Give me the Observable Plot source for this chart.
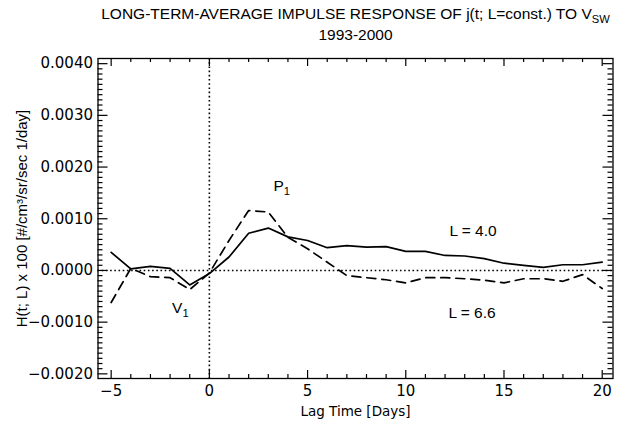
<!DOCTYPE html>
<html>
<head>
<meta charset="utf-8">
<script src="https://cdn.jsdelivr.net/npm/d3@7"></script>
<script src="https://cdn.jsdelivr.net/npm/@observablehq/plot@0.6"></script>
<style>
  html, body { margin: 0; padding: 0; background: white; }
</style>
</head>
<body>
<div id="chart"></div>
<script>
// ---- data ----
const lag = [-5, -4, -3, -2, -1, 0, 1, 2, 3, 4, 5, 6, 7, 8, 9, 10, 11, 12, 13, 14, 15, 16, 17, 18, 19, 20];
const hL40 = [0.00035, 0.00003, 0.00008, 0.00004, -0.00028, -0.00006, 0.00026, 0.00072, 0.00082, 0.00065,
              0.00058, 0.00044, 0.00048, 0.00045, 0.00046, 0.00037, 0.00037, 0.00029, 0.00028, 0.00023,
              0.00014, 0.00010, 0.00006, 0.00011, 0.00011, 0.00016];
const hL66 = [-0.00062, 0.00004, -0.00012, -0.00014, -0.00037, -0.00005, 0.00058, 0.00116, 0.00113, 0.00064,
              0.00042, 0.00016, -0.00010, -0.00014, -0.00018, -0.00024, -0.00014, -0.00014, -0.00016, -0.00019,
              -0.00024, -0.00016, -0.00016, -0.00021, -0.00008, -0.00035];

const xTicks = [-5, 0, 5, 10, 15, 20];
const yTicks = [-0.0020, -0.0010, 0.0000, 0.0010, 0.0020, 0.0030, 0.0040];

const annotText = ["P_1", "V_1", "L = 4.0", "L = 6.6"];
const annotX = [3.26, -1.90, 12.22, 12.17];
const annotY = [0.00164, -0.000735, 0.000754, -0.00083];

const titleLines = ["LONG-TERM-AVERAGE IMPULSE RESPONSE OF j(t; L=const.) TO V_SW", "1993-2000"];
const xLabel = "Lag Time [Days]";
const yLabel = "H(t; L) x 100 [#/cm³/sr/sec 1/day]";

// ---- table built from the arrays ----
const rows = lag.map((t, i) => ({lag: t, L40: hL40[i], L66: hL66[i]}));
const annots = annotText.map((s, i) => ({s, x: annotX[i], y: annotY[i]}));

const xMinor = d3.range(-5, 21, 1).filter(d => !xTicks.includes(d));
const yMinor = d3.range(-20, 41, 1).filter(d => d % 10 !== 0).map(d => d / 10000);

const W = 633, H = 426;
const mL = 97.5, mR = 20.5, mT = 58, mB = 48;
const fw = W - mL - mR, fh = H - mT - mB;

const sans = "'Liberation Sans', Arial, Helvetica, sans-serif";
const tickFont = "'DejaVu Sans', sans-serif";

const svg = Plot.plot({
  width: W,
  height: H,
  marginLeft: mL, marginRight: mR, marginTop: mT, marginBottom: mB,
  x: {domain: [-5.67, 20.55]},
  y: {domain: [-0.00209, 0.0041]},
  style: {fontFamily: sans, fontSize: "15px", background: "white", color: "black", overflow: "visible"},
  marks: [
    // reference lines
    Plot.ruleY([0], {stroke: "black", strokeWidth: 1.6, strokeDasharray: "1.6,2.6"}),
    Plot.ruleX([0], {stroke: "black", strokeWidth: 1.6, strokeDasharray: "1.6,2.6"}),
    // data
    Plot.line(rows, {x: "lag", y: "L40", stroke: "black", strokeWidth: 1.7}),
    Plot.line(rows, {x: "lag", y: "L66", stroke: "black", strokeWidth: 1.7, strokeDasharray: "9,6"}),
    // inward ticks, bottom and top
    Plot.tickX(xTicks, {x: d => d, insetTop: fh - 8, stroke: "black", strokeWidth: 1.2}),
    Plot.tickX(xTicks, {x: d => d, insetBottom: fh - 8, stroke: "black", strokeWidth: 1.2}),
    Plot.tickX(xMinor, {x: d => d, insetTop: fh - 4, stroke: "black", strokeWidth: 1.2}),
    Plot.tickX(xMinor, {x: d => d, insetBottom: fh - 4, stroke: "black", strokeWidth: 1.2}),
    // inward ticks, left and right
    Plot.tickY(yTicks, {y: d => d, insetRight: fw - 10, stroke: "black", strokeWidth: 1.2}),
    Plot.tickY(yTicks, {y: d => d, insetLeft: fw - 10, stroke: "black", strokeWidth: 1.2}),
    Plot.tickY(yMinor, {y: d => d, insetRight: fw - 5, stroke: "black", strokeWidth: 1.2}),
    Plot.tickY(yMinor, {y: d => d, insetLeft: fw - 5, stroke: "black", strokeWidth: 1.2}),
    Plot.frame({stroke: "black", strokeWidth: 1.3}),
    // axes labels
    Plot.axisX(xTicks, {tickSize: 0, tickPadding: 7, label: null, fontSize: 15, fontFamily: tickFont}),
    Plot.axisY(yTicks, {tickSize: 0, tickPadding: 5, label: null, fontSize: 15, fontFamily: tickFont, tickFormat: d3.format(".4f")}),
    Plot.text([xLabel], {frameAnchor: "bottom", dy: 33, lineAnchor: "middle", fontSize: 13.5, fontFamily: tickFont}),
    Plot.text([yLabel], {frameAnchor: "left", dx: -76, rotate: -90, lineAnchor: "middle", textAnchor: "middle", fontSize: 15}),
    // title
    Plot.text([titleLines[0]], {frameAnchor: "top", dy: -44, lineAnchor: "middle", fontSize: 15.5}),
    Plot.text([titleLines[1]], {frameAnchor: "top", dy: -23, lineAnchor: "middle", fontSize: 15.5}),
    // annotations
    Plot.text(annots, {x: "x", y: "y", text: "s", textAnchor: "start", lineAnchor: "middle", fontSize: 15.5})
  ]
});

// subscripts: "_xx" -> subscript tspan
d3.select(svg).selectAll("text").each(function () {
  const t = this.textContent;
  if (t && t.includes("_") && this.children.length === 0) {
    const m = t.match(/^(.*)_(\w+)$/);
    if (m) {
      const el = d3.select(this);
      el.text(null);
      el.append("tspan").text(m[1]);
      el.append("tspan").attr("dy", "0.35em").attr("font-size", "72%").text(m[2]);
    }
  }
});

document.getElementById("chart").appendChild(svg);
</script>
</body>
</html>
